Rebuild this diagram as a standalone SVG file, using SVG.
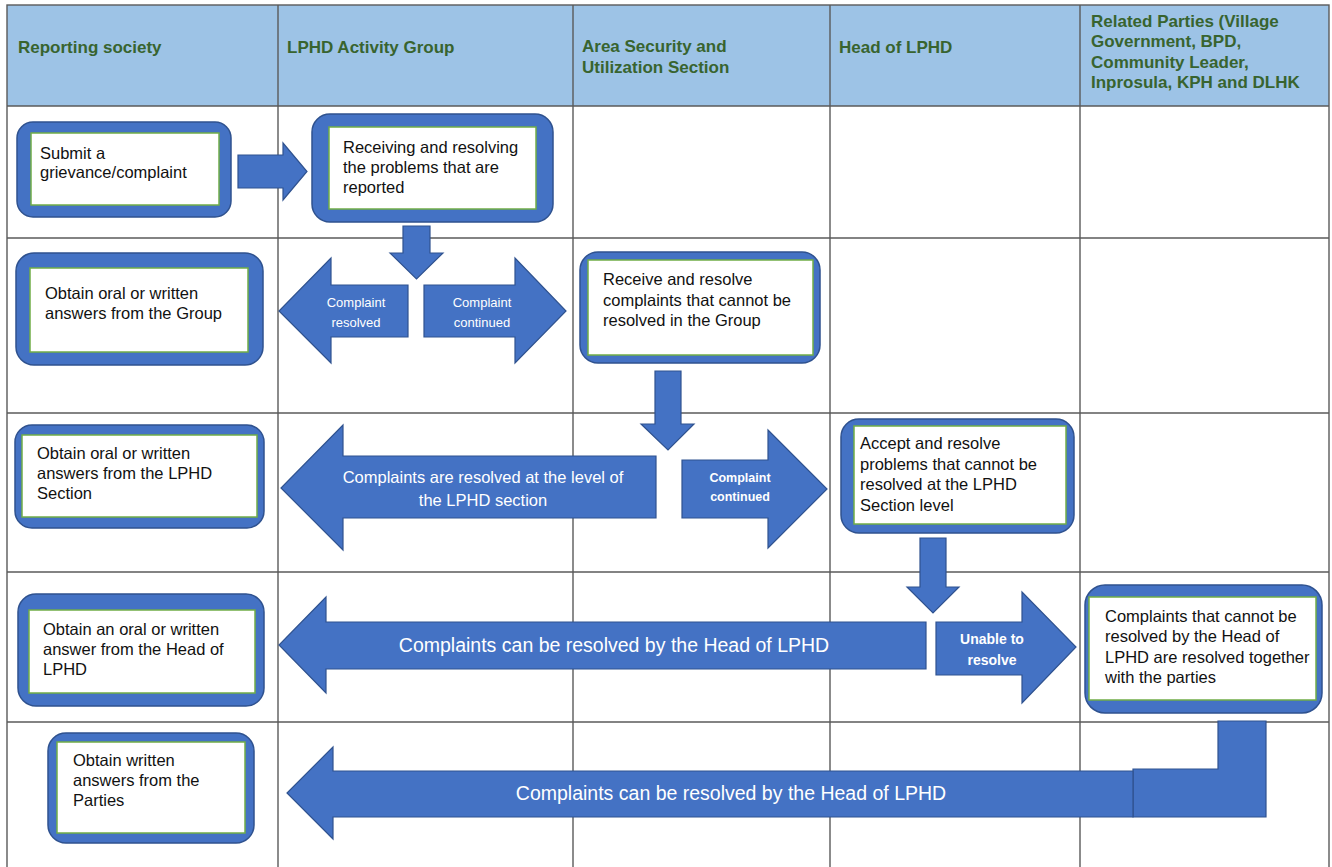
<svg xmlns="http://www.w3.org/2000/svg" width="1332" height="867" viewBox="0 0 1332 867">
<style>
.grid{stroke:#5a5a5a;stroke-width:1.4;fill:none}
.hdr{font-family:"Liberation Sans",Arial,sans-serif;font-weight:bold;font-size:17px;fill:#38642f}
.outer{fill:#4472c4;stroke:#2f528f;stroke-width:1.5}
.inner{fill:#ffffff;stroke:#70ad47;stroke-width:1.5}
.nt{font-family:"Liberation Sans",Arial,sans-serif;font-size:16.5px;fill:#111}
.arr{fill:#4472c4;stroke:#2f528f;stroke-width:1.2}
.al{font-family:"Liberation Sans",Arial,sans-serif;fill:#ffffff;text-anchor:middle}
.sm{font-size:13px}
.smb{font-size:12.5px;font-weight:bold}
.ub{font-size:14px;font-weight:bold}
.md{font-size:16.5px}
.lg{font-size:19.5px}
</style>
<rect x="0" y="0" width="1332" height="867" fill="#ffffff"/>
<g id="table">
<rect x="7" y="5" width="1322" height="101" fill="#9dc3e6"/>
<rect x="7" y="5" width="1322" height="870" class="grid"/>
<line x1="7" y1="106" x2="1329" y2="106" class="grid"/>
<line x1="7" y1="238" x2="1329" y2="238" class="grid"/>
<line x1="7" y1="413" x2="1329" y2="413" class="grid"/>
<line x1="7" y1="572" x2="1329" y2="572" class="grid"/>
<line x1="7" y1="722" x2="1329" y2="722" class="grid"/>
<line x1="278" y1="5" x2="278" y2="867" class="grid"/>
<line x1="573" y1="5" x2="573" y2="867" class="grid"/>
<line x1="830" y1="5" x2="830" y2="867" class="grid"/>
<line x1="1080" y1="5" x2="1080" y2="867" class="grid"/>
<text class="hdr" x="18" y="53">Reporting society</text>
<text class="hdr" x="287" y="53">LPHD Activity Group</text>
<text class="hdr" x="582" y="52">Area Security and</text>
<text class="hdr" x="582" y="73">Utilization Section</text>
<text class="hdr" x="839" y="53">Head of LPHD</text>
<text class="hdr" x="1091" y="27">Related Parties (Village</text>
<text class="hdr" x="1091" y="47">Government, BPD,</text>
<text class="hdr" x="1091" y="68">Community Leader,</text>
<text class="hdr" x="1091" y="88">Inprosula, KPH and DLHK</text>
</g>
<g id="connectors">
<path class="arr" d="M238,155 H283 V143 L307,171.5 L283,200 V188 H238 Z"/>
<path class="arr" d="M403,226 H430 V253 H443 L416.5,279 L390,253 H403 Z"/>
<path class="arr" d="M408,285 H331 V258 L279,311 L331,363 V337 H408 Z"/>
<text class="al sm" x="356" y="307">Complaint</text>
<text class="al sm" x="356" y="327">resolved</text>
<path class="arr" d="M424,285 H515 V258 L566,311 L515,363 V337 H424 Z"/>
<text class="al sm" x="482" y="307">Complaint</text>
<text class="al sm" x="482" y="327">continued</text>
<path class="arr" d="M655,371 H681 V424 H694 L668,450 L641,424 H655 Z"/>
<path class="arr" d="M656,456 H343 V425 L281,488 L343,550 V518 H656 Z"/>
<text class="al md" x="483" y="483">Complaints are resolved at the level of</text>
<text class="al md" x="483" y="506">the LPHD section</text>
<path class="arr" d="M682,460 H768 V430 L827,489 L768,548 V518 H682 Z"/>
<text class="al smb" x="740" y="482">Complaint</text>
<text class="al smb" x="740" y="501">continued</text>
<path class="arr" d="M920,538 H946 V587 H959 L933,613 L907,587 H920 Z"/>
<path class="arr" d="M926,622 H326 V597 L279,645 L326,693 V669 H926 Z"/>
<text class="al lg" x="614" y="652">Complaints can be resolved by the Head of LPHD</text>
<path class="arr" d="M936,622 H1022 V592 L1076,647 L1022,703 V675 H936 Z"/>
<text class="al ub" x="992" y="644">Unable to</text>
<text class="al ub" x="992" y="665">resolve</text>
<path class="arr" d="M1218,721 H1266 V817 H1133 V769 H1218 Z"/>
<path class="arr" d="M1133,771 H333 V747 L287,793 L333,839 V817 H1133 Z"/>
<text class="al lg" x="731" y="800">Complaints can be resolved by the Head of LPHD</text>
</g>
<g id="n1">
<rect class="outer" x="17" y="122" width="214" height="95" rx="16"/>
<rect class="inner" x="31" y="133" width="188" height="72"/>
<text class="nt" x="40" y="159">Submit a</text>
<text class="nt" x="40" y="178">grievance/complaint</text>
</g>
<g id="n2">
<rect class="outer" x="312" y="114" width="241" height="108" rx="18"/>
<rect class="inner" x="329" y="127" width="207" height="82"/>
<text class="nt" x="343" y="153">Receiving and resolving</text>
<text class="nt" x="343" y="173">the problems that are</text>
<text class="nt" x="343" y="193">reported</text>
</g>
<g id="n3">
<rect class="outer" x="16" y="253" width="247" height="112" rx="18"/>
<rect class="inner" x="30" y="268" width="218" height="84"/>
<text class="nt" x="45" y="299">Obtain oral or written</text>
<text class="nt" x="45" y="319">answers from the Group</text>
</g>
<g id="n4">
<rect class="outer" x="580" y="252" width="240" height="111" rx="18"/>
<rect class="inner" x="588" y="260" width="225" height="95"/>
<text class="nt" x="603" y="285">Receive and resolve</text>
<text class="nt" x="603" y="306">complaints that cannot be</text>
<text class="nt" x="603" y="326">resolved in the Group</text>
</g>
<g id="n5">
<rect class="outer" x="15" y="425" width="249" height="103" rx="17"/>
<rect class="inner" x="22" y="435" width="235" height="82"/>
<text class="nt" x="37" y="459">Obtain oral or written</text>
<text class="nt" x="37" y="479">answers from the LPHD</text>
<text class="nt" x="37" y="499">Section</text>
</g>
<g id="n6">
<rect class="outer" x="841" y="419" width="233" height="114" rx="18"/>
<rect class="inner" x="854" y="426" width="212" height="98"/>
<text class="nt" x="860" y="449">Accept and resolve</text>
<text class="nt" x="860" y="470">problems that cannot be</text>
<text class="nt" x="860" y="490">resolved at the LPHD</text>
<text class="nt" x="860" y="511">Section level</text>
</g>
<g id="n7">
<rect class="outer" x="18" y="594" width="246" height="112" rx="18"/>
<rect class="inner" x="29" y="610" width="226" height="83"/>
<text class="nt" x="43" y="635">Obtain an oral or written</text>
<text class="nt" x="43" y="655">answer from the Head of</text>
<text class="nt" x="43" y="675">LPHD</text>
</g>
<g id="n8">
<rect class="outer" x="1085" y="585" width="237" height="128" rx="20"/>
<rect class="inner" x="1089" y="597" width="227" height="103"/>
<text class="nt" x="1105" y="622">Complaints that cannot be</text>
<text class="nt" x="1105" y="642">resolved by the Head of</text>
<text class="nt" x="1105" y="663">LPHD are resolved together</text>
<text class="nt" x="1105" y="683">with the parties</text>
</g>
<g id="n9">
<rect class="outer" x="48" y="733" width="206" height="110" rx="18"/>
<rect class="inner" x="57" y="742" width="188" height="91"/>
<text class="nt" x="73" y="766">Obtain written</text>
<text class="nt" x="73" y="786">answers from the</text>
<text class="nt" x="73" y="806">Parties</text>
</g>
</svg>
